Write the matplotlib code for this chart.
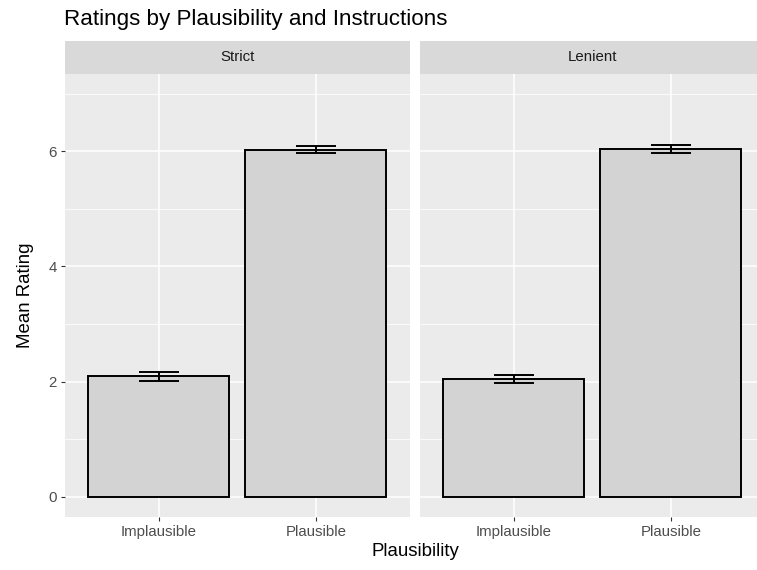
#/usr/bin/env python
'''
Bar chart of mean ratings by plausibility, one panel per instruction type
'''

import matplotlib
matplotlib.use('Agg')
import numpy as np
import matplotlib.pyplot as plt

# data
instructions = ['Strict', 'Lenient']
plausibility = ['Implausible', 'Plausible']
mean_strict = [2.09, 6.03]
se_strict = [0.075, 0.065]
mean_lenient = [2.045, 6.035]
se_lenient = [0.075, 0.065]
y_ticks = [0, 2, 4, 6]
y_minor = [1, 3, 5, 7]

W, H = 757., 570.
plt.rcParams['font.family'] = ['Liberation Sans', 'DejaVu Sans']


def px(x0, y0, w, h):
    '''
        Pixel box (from top left) to figure fraction
    '''
    return [x0 / W, 1 - (y0 + h) / H, w / W, h / H]


def draw_panel(fig, box, name, means, errs, show_y):
    '''
        One facet: strip, bars, error bars
    '''
    ax = fig.add_axes(px(*box))
    ax.set_facecolor('#EBEBEB')
    for s in ax.spines.values():
        s.set_visible(False)

    xpos = np.arange(len(plausibility)) + 1
    ax.set_xlim(0.4, 2.6)
    ax.set_ylim(-0.35, 7.35)

    for y in y_minor:
        ax.axhline(y, color='white', lw=0.55, zorder=0)
    for y in y_ticks:
        ax.axhline(y, color='white', lw=1.1, zorder=0)
    for x in xpos:
        ax.axvline(x, color='white', lw=1.1, zorder=0)

    ax.bar(xpos, means, width=0.9, color='#D3D3D3', edgecolor='black',
           linewidth=1.4, zorder=2)
    ax.errorbar(xpos, means, yerr=errs, fmt='none', ecolor='black',
                elinewidth=1.4, capsize=14.2, capthick=1.4, zorder=3)

    ax.set_xticks(xpos)
    ax.set_xticklabels(plausibility)
    ax.set_yticks(y_ticks)
    if show_y:
        ax.set_yticklabels([str(t) for t in y_ticks])
    else:
        ax.tick_params(axis='y', left=False, labelleft=False)
    ax.tick_params(colors='#333333', labelcolor='#4D4D4D', labelsize=10.8,
                   length=2.9, width=0.8, pad=2.6)

    # strip above the panel
    sx = fig.add_axes(px(box[0], 41, box[2], 32.5))
    sx.set_facecolor('#D9D9D9')
    sx.set_xticks([])
    sx.set_yticks([])
    for s in sx.spines.values():
        s.set_visible(False)
    sx.text(0.5, 0.5, name, ha='center', va='center', fontsize=10.8,
            color='#1A1A1A', transform=sx.transAxes)
    return ax


def main():
    '''
        Main script
    '''
    fig = plt.figure(figsize=(W / 100, H / 100), dpi=100)

    draw_panel(fig, (64.5, 73.5, 345.5, 443.5), instructions[0],
               mean_strict, se_strict, True)
    draw_panel(fig, (419.5, 73.5, 345.5, 443.5), instructions[1],
               mean_lenient, se_lenient, False)

    fig.text(64 / W, 1 - 25 / H, 'Ratings by Plausibility and Instructions',
             fontsize=16.1, ha='left', va='baseline', color='black')
    fig.text(415 / W, 1 - 552 / H, 'Plausibility', fontsize=13.4,
             ha='center', va='center')
    fig.text(26 / W, 1 - 295 / H, 'Mean Rating', fontsize=13.4,
             ha='center', va='center', rotation=90)

    fig.savefig('out.png', dpi=100)
    plt.close(fig)


if __name__ == '__main__':
    main()
